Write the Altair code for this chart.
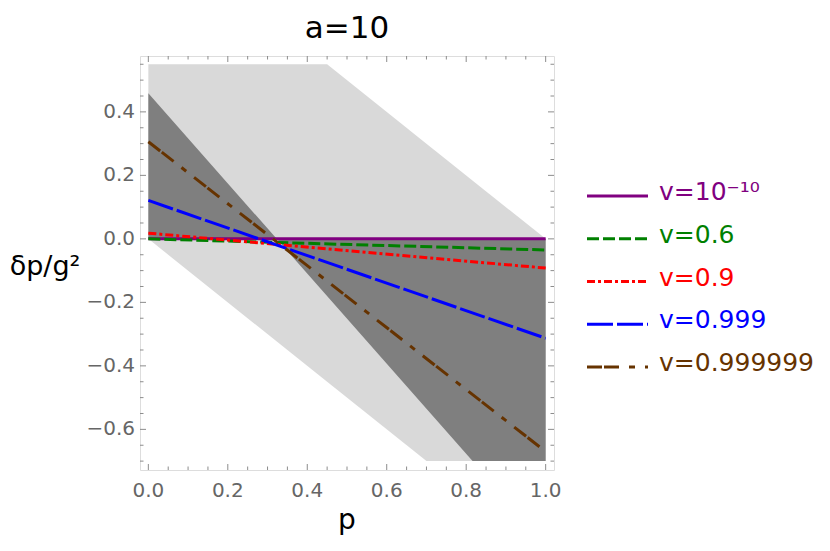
import altair as alt
import pandas as pd

# ---------------- data ----------------
series_names = ["v=10⁻¹⁰", "v=0.6", "v=0.9", "v=0.999", "v=0.999999"]
series_colors = ["#800080", "#008000", "#ff0000", "#0000ff", "#663300"]
series_dashes = [[1, 0], [12, 4], [8, 3, 3, 3], [26, 4], [15, 2, 15, 10, 6, 10]]
p_ends = [0.0, 1.0]
y_at_p0 = [0.0, 0.0, 0.018, 0.121, 0.306]
y_at_p1 = [0.0, -0.035, -0.092, -0.313, -0.670]

# shaded regions (piecewise-linear boundaries)
light_p = [0.0, 0.45, 0.70, 1.0]
light_top = [0.55, 0.55, 0.30, 0.0]
light_bottom = [0.0, -0.45, -0.70, -0.70]
dark_p = [0.0, 0.323, 0.816, 1.0]
dark_top = [0.459, 0.0, 0.0, 0.0]
dark_bottom = [0.0, 0.0, -0.70, -0.70]

# ticks
x_major = [0.0, 0.2, 0.4, 0.6, 0.8, 1.0]
x_minor = [0.05, 0.1, 0.15, 0.25, 0.3, 0.35, 0.45, 0.5, 0.55, 0.65, 0.7, 0.75, 0.85, 0.9, 0.95]
y_major = [-0.6, -0.4, -0.2, 0.0, 0.2, 0.4]
y_minor = [-0.7, -0.65, -0.55, -0.5, -0.45, -0.35, -0.3, -0.25, -0.15, -0.1, -0.05,
           0.05, 0.1, 0.15, 0.25, 0.3, 0.35, 0.45, 0.5, 0.55]

x_domain = [-0.021, 1.021]
y_domain = [-0.728, 0.576]

title_text = ["a=10"]
x_title = ["p"]
y_title = ["δp/g²"]

# ---------------- style ----------------
W = 414
H = 414
FONT = "DejaVu Sans"
TICK = "#8c8c8c"
LABEL = "#666666"
MAJ = 6
MIN = 3.5

xs = alt.Scale(domain=x_domain, nice=False, zero=False)
ys = alt.Scale(domain=y_domain, nice=False, zero=False)
cscale = alt.Scale(domain=series_names, range=series_colors)
dscale = alt.Scale(domain=series_names, range=series_dashes)

light_df = pd.DataFrame({"p": light_p, "top": light_top, "bottom": light_bottom})
dark_df = pd.DataFrame({"p": dark_p, "top": dark_top, "bottom": dark_bottom})

rows = []
for n, a, b in zip(series_names, y_at_p0, y_at_p1):
    rows.append({"name": n, "p": p_ends[0], "y": a})
    rows.append({"name": n, "p": p_ends[1], "y": b})
lines_df = pd.DataFrame(rows)

light = alt.Chart(light_df).mark_area(color="#d9d9d9", opacity=1).encode(
    x=alt.X("p:Q", scale=xs, axis=None),
    y=alt.Y("top:Q", scale=ys, axis=None),
    y2="bottom:Q",
)
dark = alt.Chart(dark_df).mark_area(color="#7f7f7f", opacity=1).encode(
    x=alt.X("p:Q", scale=xs, axis=None),
    y=alt.Y("top:Q", scale=ys, axis=None),
    y2="bottom:Q",
)
lines = alt.Chart(lines_df).mark_line(strokeWidth=3).encode(
    x=alt.X("p:Q", scale=xs, axis=None),
    y=alt.Y("y:Q", scale=ys, axis=None),
    color=alt.Color("name:N", scale=cscale, legend=None),
    strokeDash=alt.StrokeDash("name:N", scale=dscale, legend=None),
    detail="name:N",
)


def tick_layer(vals, axis, side, size):
    df = pd.DataFrame({"t": vals})
    base = alt.Chart(df).mark_rule(color=TICK, strokeWidth=1)
    if axis == "x":
        enc = {"x": alt.X("t:Q", scale=xs, axis=None)}
        if side == "bottom":
            enc.update(y=alt.value(H), y2=alt.value(H - size))
        else:
            enc.update(y=alt.value(0), y2=alt.value(size))
    else:
        enc = {"y": alt.Y("t:Q", scale=ys, axis=None)}
        if side == "left":
            enc.update(x=alt.value(0), x2=alt.value(size))
        else:
            enc.update(x=alt.value(W), x2=alt.value(W - size))
    return base.encode(**enc)


ticks = []
for side in ["bottom", "top"]:
    ticks.append(tick_layer(x_major, "x", side, MAJ))
    ticks.append(tick_layer(x_minor, "x", side, MIN))
for side in ["left", "right"]:
    ticks.append(tick_layer(y_major, "y", side, MAJ))
    ticks.append(tick_layer(y_minor, "y", side, MIN))

# tick labels (through the scales)
x_lab = alt.Chart(pd.DataFrame({"t": x_major})).mark_text(
    baseline="top", align="center", fontSize=20, font=FONT, color=LABEL
).encode(
    x=alt.X("t:Q", scale=xs, axis=None),
    y=alt.value(H + 11),
    text=alt.Text("t:Q", format=".1f"),
)
y_lab = alt.Chart(pd.DataFrame({"t": y_major})).mark_text(
    baseline="middle", align="right", fontSize=20, font=FONT, color=LABEL
).encode(
    y=alt.Y("t:Q", scale=ys, axis=None),
    x=alt.value(-5),
    text=alt.Text("t:Q", format=".1f"),
)

# titles
x_ttl = alt.Chart(pd.DataFrame({"s": x_title})).mark_text(
    baseline="alphabetic", align="center", fontSize=28, font=FONT, color="black"
).encode(x=alt.value(W / 2), y=alt.value(H + 59), text="s:N")
y_ttl = alt.Chart(pd.DataFrame({"s": y_title})).mark_text(
    baseline="middle", align="center", fontSize=27, font=FONT, color="black"
).encode(x=alt.value(-95), y=alt.value(211), text="s:N")
main_ttl = alt.Chart(pd.DataFrame({"s": title_text})).mark_text(
    baseline="alphabetic", align="center", fontSize=31, font=FONT, color="black"
).encode(x=alt.value(W / 2), y=alt.value(-18), text="s:N")

main = alt.layer(light, dark, lines, *ticks, x_lab, y_lab, x_ttl, y_ttl, main_ttl)

# ---------------- legend ----------------
leg_df = pd.DataFrame({"name": series_names})
leg_y = alt.Y("name:N", scale=alt.Scale(type="point", domain=series_names, range=[140, 311],
                                         padding=0), axis=None)
leg_rule = alt.Chart(leg_df).mark_rule(strokeWidth=3).encode(
    y=leg_y,
    x=alt.value(447),
    x2=alt.value(508),
    color=alt.Color("name:N", scale=cscale, legend=None),
    strokeDash=alt.StrokeDash("name:N", scale=dscale, legend=None),
)
leg_text = alt.Chart(leg_df).mark_text(align="left", baseline="middle", fontSize=25,
                                       font=FONT, dy=-4).encode(
    y=leg_y,
    x=alt.value(519),
    text="name:N",
    color=alt.Color("name:N", scale=cscale, legend=None),
)
legend = alt.layer(leg_rule, leg_text)

chart = alt.layer(main, legend).resolve_scale(y="independent").properties(
    width=W,
    height=H,
    autosize=alt.AutoSizeParams(type="none"),
    padding={"left": 132, "top": 48, "right": 266, "bottom": 69},
).configure_view(stroke="#8c8c8c", strokeWidth=1.2).configure(font=FONT, background="white")

chart.save("out.html", embed_options={"renderer": "svg", "actions": False})
